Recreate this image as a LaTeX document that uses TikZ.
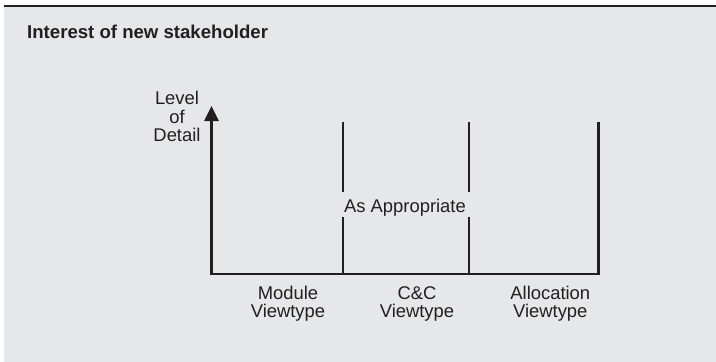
\documentclass[tikz,border=0pt]{standalone}
\usepackage{fontspec}
\setmainfont{Liberation Sans}
\usetikzlibrary{arrows.meta}
\definecolor{panel}{HTML}{E6E7E8}
\definecolor{ink}{HTML}{231F20}
\begin{document}
\begin{tikzpicture}[x=1pt,y=-1pt,
  axisline/.style={draw=ink,line width=2.6pt},
  lbl/.style={text=ink,font=\fontsize{18.4}{17.8}\selectfont,align=center,inner sep=0pt,anchor=base},
  heading/.style={text=ink,font=\bfseries\fontsize{18.6}{20}\selectfont,inner sep=0pt,anchor=base west}]
% page, panel and rule along the top
\useasboundingbox (0,0) rectangle (716,362);
\fill[white] (0,0) rectangle (716,362);
\fill[panel] (4,7) rectangle (716,362);
\draw[ink,line width=2pt] (4,6) -- (716,6);

\node[heading] (title) at (27,38.3) {Interest of new stakeholder};

% frame corners
\coordinate (origin) at (211.5,274);
\coordinate (tip) at (211.5,106);
\coordinate (br) at (598.5,274);
\coordinate (tr) at (598.5,122);

% dividers between the viewtypes
\coordinate (d1top) at (343,122);
\coordinate (d1a) at (343,192);
\coordinate (d1b) at (343,217);
\coordinate (d1bot) at (343,274);
\coordinate (d2top) at (469,122);
\coordinate (d2a) at (469,192);
\coordinate (d2b) at (469,217);
\coordinate (d2bot) at (469,274);

\draw[axisline,-{Triangle[length=15pt,width=14pt]}] (tr) -- (br) -- (origin) -- (tip);
\draw[axisline] (d1top) -- (d1a) (d1b) -- (d1bot);
\draw[axisline] (d2top) -- (d2a) (d2b) -- (d2bot);

% multi-line labels: the base anchor sits on the last line
\node[lbl,font=\fontsize{18.4}{18.7}\selectfont] (level) at (177,141.7) {Level\\of\\Detail};
\node[lbl] (appr) at (405,212.3) {As Appropriate};
\node[lbl] (module) at (288,317.7) {Module\\Viewtype};
\node[lbl] (cc) at (417,317.7) {C\&C\\Viewtype};
\node[lbl] (alloc) at (550.3,317.7) {Allocation\\Viewtype};
\end{tikzpicture}
\end{document}
